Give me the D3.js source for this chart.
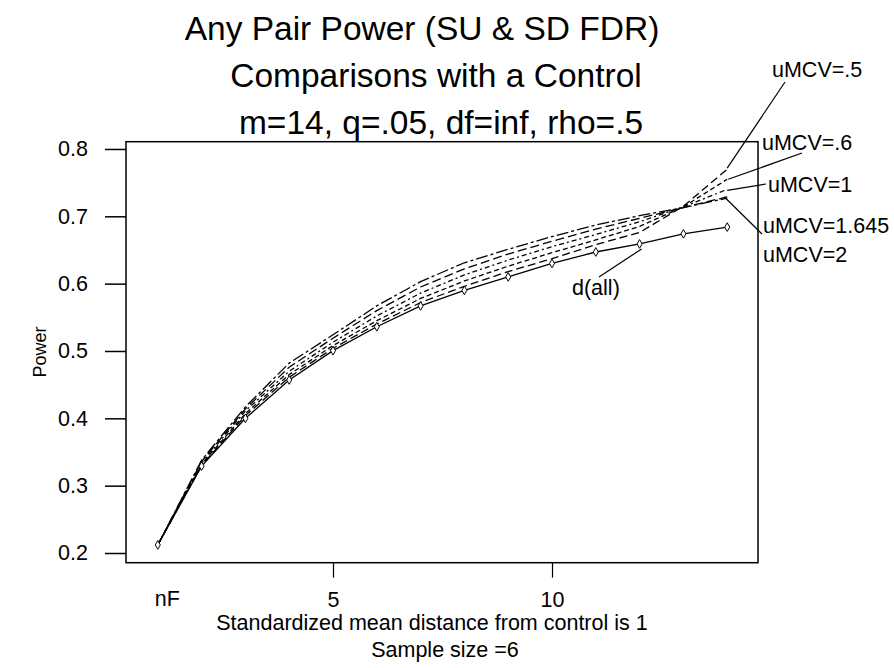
<!DOCTYPE html>
<html>
<head>
<meta charset="utf-8">
<script src="https://cdn.jsdelivr.net/npm/d3@7"></script>
<style>
  body { margin: 0; background: #fff; }
  svg { display: block; }
  text { font-family: "Liberation Sans", Arial, Helvetica, sans-serif; fill: #000; }
</style>
</head>
<body>
<svg id="chart" width="894" height="668"></svg>
<script>
// Number of false hypotheses (x) and the power curves for each procedure
const nFalse = [1, 2, 3, 4, 5, 6, 7, 8, 9, 10, 11, 12, 13, 14];
const powerAll   = [0.212, 0.329, 0.400, 0.457, 0.5005, 0.536, 0.567, 0.590, 0.610, 0.630, 0.647, 0.659, 0.674, 0.684];
const powerU05   = [0.212, 0.330, 0.404, 0.461, 0.504, 0.540, 0.572, 0.596, 0.618, 0.637, 0.658, 0.676, 0.715, 0.770];
const powerU06   = [0.212, 0.332, 0.407, 0.465, 0.508, 0.545, 0.578, 0.604, 0.626, 0.646, 0.665, 0.685, 0.714, 0.755];
const powerU1    = [0.212, 0.334, 0.411, 0.470, 0.513, 0.552, 0.586, 0.613, 0.635, 0.655, 0.673, 0.692, 0.714, 0.740];
const powerU1645 = [0.212, 0.336, 0.414, 0.476, 0.519, 0.560, 0.595, 0.622, 0.644, 0.663, 0.681, 0.697, 0.713, 0.729];
const powerU2    = [0.212, 0.338, 0.417, 0.482, 0.524, 0.567, 0.603, 0.631, 0.651, 0.670, 0.687, 0.701, 0.713, 0.727];

const seriesNames = ["uMCV=.5", "uMCV=.6", "uMCV=1", "uMCV=1.645", "uMCV=2"];
const seriesDash  = ["8,4", "5,3", "5,3,2,3", "9,4", "12,3,3,3"];

const xTickValues = [5, 10];
const xTickLabels = ["5", "10"];
const yTickValues = [0.2, 0.3, 0.4, 0.5, 0.6, 0.7, 0.8];
const yTickLabels = ["0.2", "0.3", "0.4", "0.5", "0.6", "0.7", "0.8"];

const titleLines = ["Any Pair Power (SU & SD FDR)", "Comparisons with a Control", "m=14, q=.05, df=inf, rho=.5"];
const xTitleLines = ["Standardized mean distance from control is 1", "Sample size =6"];
const yTitle = "Power";

const svg = d3.select("#chart");
const plot = { left: 126, right: 758, top: 141.7, bottom: 562.7 };

const x = d3.scaleLinear().domain([0.274, 14.703]).range([plot.left, plot.right]);
const y = d3.scaleLinear().domain([0.1856, 0.8108]).range([plot.bottom, plot.top]);

const axisFont = 21.5;

// Titles
const titleCenters = [422, 436, 441];
const titleBaselines = [40, 87, 134];
svg.append("g").selectAll("text").data(titleLines).join("text")
  .attr("x", (d, i) => titleCenters[i])
  .attr("y", (d, i) => titleBaselines[i])
  .attr("text-anchor", "middle")
  .style("font-size", "33.5px")
  .text(d => d);

// Frame
svg.append("rect")
  .attr("x", plot.left).attr("y", plot.top)
  .attr("width", plot.right - plot.left).attr("height", plot.bottom - plot.top)
  .attr("fill", "none").attr("stroke", "#000").attr("stroke-width", 1.5);

// Y axis
const yAxis = svg.append("g")
  .attr("transform", `translate(${plot.left},0)`)
  .call(d3.axisLeft(y).tickValues(yTickValues).tickSize(21).tickPadding(17)
    .tickFormat((d, i) => yTickLabels[i]));
yAxis.select(".domain").remove();
yAxis.selectAll(".tick line").attr("stroke", "#000").attr("stroke-width", 1.5);
yAxis.selectAll(".tick text").style("font-size", axisFont + "px").attr("fill", "#000");
yAxis.attr("font-family", null).attr("font-size", null);

// X axis
const xAxis = svg.append("g")
  .attr("transform", `translate(0,${plot.bottom})`)
  .call(d3.axisBottom(x).tickValues(xTickValues).tickSize(15).tickPadding(14.5)
    .tickFormat((d, i) => xTickLabels[i]));
xAxis.select(".domain").remove();
xAxis.selectAll(".tick line").attr("stroke", "#000").attr("stroke-width", 1.2);
xAxis.selectAll(".tick text").style("font-size", axisFont + "px").attr("fill", "#000");
xAxis.attr("font-family", null).attr("font-size", null);

svg.append("text")
  .attr("x", x(nFalse[0]) - 3).attr("y", 606)
  .style("font-size", axisFont + "px")
  .text("nF");

// Axis titles
svg.append("g").selectAll("text").data(xTitleLines).join("text")
  .attr("x", (d, i) => i === 0 ? 432 : 445)
  .attr("y", (d, i) => i === 0 ? 630 : 657)
  .attr("text-anchor", "middle")
  .style("font-size", axisFont + "px")
  .text(d => d);

svg.append("text")
  .attr("transform", `translate(46,352) rotate(-90)`)
  .attr("text-anchor", "middle")
  .style("font-size", "18px")
  .text(yTitle);

// Curves
const line = d3.line().x((d, i) => x(nFalse[i])).y(d => y(d));
const dashedSeries = [powerU05, powerU06, powerU1, powerU1645, powerU2];

svg.append("g").selectAll("path").data(dashedSeries).join("path")
  .attr("d", d => line(d))
  .attr("fill", "none")
  .attr("stroke", "#000")
  .attr("stroke-width", 1.3)
  .attr("stroke-dasharray", (d, i) => seriesDash[i]);

svg.append("path")
  .attr("d", line(powerAll))
  .attr("fill", "none")
  .attr("stroke", "#000")
  .attr("stroke-width", 1.3);

// Diamond markers on the d(all) curve
const diamond = d3.symbol().type(d3.symbolDiamond).size(22);
svg.append("g").selectAll("path").data(powerAll).join("path")
  .attr("transform", (d, i) => `translate(${x(nFalse[i])},${y(d)})`)
  .attr("d", diamond)
  .attr("fill", "#fff")
  .attr("stroke", "#000")
  .attr("stroke-width", 1);

// Curve labels with leader lines
const last = nFalse.length - 1;
const labels = [
  { text: seriesNames[0], tx: 772, ty: 77,  from: [x(nFalse[last]), y(powerU05[last]) - 1], to: [785, 82] },
  { text: seriesNames[1], tx: 762, ty: 150, from: [x(nFalse[last]) + 1, y(powerU06[last])], to: [802, 153] },
  { text: seriesNames[2], tx: 768, ty: 191.5, from: [x(nFalse[last]), y(powerU1[last]) + 1], to: [766, 184] },
  { text: seriesNames[3], tx: 763, ty: 233, from: [x(nFalse[last]) - 3, y(powerU1645[last])], to: [762, 234] },
  { text: seriesNames[4], tx: 763, ty: 261.5, from: null, to: null },
  { text: "d(all)", tx: 572, ty: 295, from: [x(nFalse[11]) + 2, y(powerAll[11]) + 5], to: [599, 277] }
];

svg.append("g").selectAll("line").data(labels.filter(d => d.from)).join("line")
  .attr("x1", d => d.from[0]).attr("y1", d => d.from[1])
  .attr("x2", d => d.to[0]).attr("y2", d => d.to[1])
  .attr("stroke", "#000").attr("stroke-width", 1.2);

svg.append("g").selectAll("text").data(labels).join("text")
  .attr("x", d => d.tx).attr("y", d => d.ty)
  .style("font-size", axisFont + "px")
  .text(d => d.text);
</script>
</body>
</html>
